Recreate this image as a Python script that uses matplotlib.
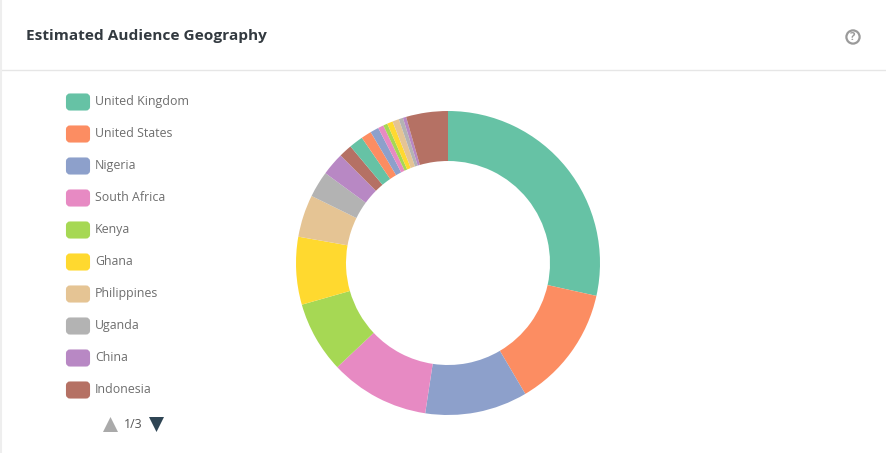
import matplotlib
matplotlib.use("Agg")
import matplotlib.pyplot as plt
from matplotlib.patches import FancyBboxPatch, Polygon, Circle

title = "Estimated Audience Geography"
legend_names = ["United Kingdom", "United States", "Nigeria", "South Africa", "Kenya",
                "Ghana", "Philippines", "Uganda", "China", "Indonesia"]
palette = ["#66c2a5", "#fc8d62", "#8da0cb", "#e78ac3", "#a6d854",
           "#ffd92f", "#e5c494", "#b3b3b3", "#b888c4", "#b57164"]
values = [28.5, 13.05, 10.9, 10.6, 7.6, 7.2, 4.5, 2.8, 2.45, 1.4,
          1.5, 1.1, 0.9, 0.6, 0.45, 0.6, 0.7, 0.45, 0.35, 4.45]
page_label = "1/3"

W, H = 886, 453
plt.rcParams["font.family"] = ["Open Sans", "Noto Sans", "DejaVu Sans"]
fig = plt.figure(figsize=(W / 100, H / 100), dpi=100, facecolor="white")

bg = fig.add_axes([0, 0, 1, 1])
bg.set_xlim(0, W)
bg.set_ylim(H, 0)
bg.axis("off")
bg.plot([2, W], [69.5, 69.5], color="#e6e6e6", lw=1)
bg.plot([1, 1], [0, H], color="#eeeeee", lw=1.5)
bg.text(26, 40, title, fontsize=11.05, fontweight="bold", color="#333a40", va="baseline", ha="left")

bg.add_patch(Circle((853, 37), 6.6, fill=False, ec="#9a9a9a", lw=1.6))
bg.text(853, 37, "?", fontsize=8, fontweight="bold", color="#9a9a9a", ha="center", va="center")

for i, name in enumerate(legend_names):
    y = 102 + 32 * i
    bg.add_patch(FancyBboxPatch((67, y - 7.5), 22, 15, boxstyle="round,pad=0,rounding_size=3",
                                mutation_aspect=1, fc=palette[i], ec=palette[i], lw=1.5))
    bg.text(95, y + 3, name, fontsize=8.95, color="#6e6e6e", va="baseline", ha="left")

bg.add_patch(Polygon([(103, 432), (118, 432), (110.5, 417)], closed=True, fc="#aaaaaa", ec="none"))
bg.text(124, 428.5, page_label, fontsize=8.95, color="#555555", va="baseline", ha="left")
bg.add_patch(Polygon([(149, 417), (164, 417), (156.5, 432)], closed=True, fc="#2f4554", ec="none"))

cx, cy, R = 448, 263, 152
ax = fig.add_axes([(cx - R) / W, 1 - (cy + R) / H, 2 * R / W, 2 * R / H])
colors = [palette[i % len(palette)] for i in range(len(values))]
ax.pie(values, colors=colors, startangle=90, counterclock=False, radius=1.0,
       wedgeprops=dict(width=50 / 152, linewidth=0))
ax.set_xlim(-1, 1)
ax.set_ylim(-1, 1)
ax.set_aspect("equal")

fig.savefig("out.png", dpi=100)
